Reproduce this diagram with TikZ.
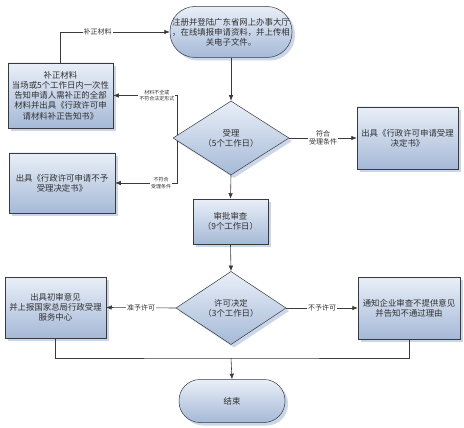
\documentclass[tikz,border=0pt]{standalone}
\usepackage{fontspec}
\setmainfont{Noto Sans CJK SC}
\usepackage{tikz}
\usetikzlibrary{arrows.meta,positioning,shapes.geometric,shadows,calc}
\definecolor{cfilltop}{HTML}{E9EFF8}
\definecolor{cfillbot}{HTML}{A5B9D7}
\definecolor{cshad}{HTML}{CAD7EB}
\definecolor{cline}{HTML}{3A3A3A}
\definecolor{ctext}{HTML}{303030}
\tikzset{
  base/.style={draw=cline, line width=0.5pt, align=center, font=\fontsize{8.4}{10.2}\selectfont, text=ctext, inner sep=1pt, top color=cfilltop, bottom color=cfillbot, drop shadow={fill=cshad, opacity=1, shadow xshift=3pt, shadow yshift=-3pt}},
  proc/.style={base, rectangle},
  term/.style={base, rectangle, rounded corners=22pt},
  dec/.style={base, diamond, inner sep=0pt},
  pre/.style={-{Latex[length=5.5pt,width=4.5pt]}, draw=cline, line width=0.6pt},
  link/.style={draw=cline, line width=0.6pt},
  lbl/.style={font=\fontsize{7}{8.5}\selectfont, text=ctext, fill=white, inner sep=1pt, align=center},
  slbl/.style={lbl, font=\fontsize{5}{6.5}\selectfont},
}

\begin{document}
\begin{tikzpicture}[x=1pt,y=-1pt]
\useasboundingbox (0,0) rectangle (464,428);
% start and end
\node[term, minimum width=122pt, minimum height=51pt, rounded corners=25pt] (start) at (231,32) {注册并登陆广东省网上办事大厅\\，在线填报申请资料，并上传相\\关电子文件。};
\node[term, minimum width=106pt, minimum height=43pt, rounded corners=21pt] (end) at (232,401) {结束};
% acceptance
\node[proc, minimum width=105pt, minimum height=65pt] (fix) at (60.5,95.5) {补正材料\\当场或5个工作日内一次性\\告知申请人需补正的全部\\材料并出具《行政许可申\\请材料补正告知书》};
\node[dec, minimum width=116pt, minimum height=74pt] (acc) at (231,138) {受理\\（5个工作日）};
\node[proc, minimum width=101pt, minimum height=62pt] (accok) at (407.5,138) {出具《行政许可申请受理\\决定书》};
\node[proc, minimum width=106pt, minimum height=60pt] (rej) at (62,183) {出具《行政许可申请不予\\受理决定书》};
% review and decision
\node[proc, minimum width=75pt, minimum height=45pt] (review) at (230.5,221.5) {审批审查\\（9个工作日）};
\node[dec, minimum width=110pt, minimum height=66pt] (decide) at (231,308) {许可决定\\（3个工作日）};
\node[proc, minimum width=101pt, minimum height=61pt] (grant) at (55.5,307.5) {出具初审意见\\并上报国家总局行政受理\\服务中心};
\node[proc, minimum width=102pt, minimum height=62pt] (deny) at (409,308) {通知企业审查不提供意见\\并告知不通过理由};

\coordinate (accU) at ($(acc.west)!0.08!(acc.north)$);
\coordinate (accD) at ($(acc.west)!0.08!(acc.south)$);
\coordinate (join) at (231,358);

\draw[pre] (start.south) -- (acc.north);
\draw[pre] (fix.north) |- node[lbl, pos=0.67] {补正材料} (start.west);
\draw[pre] (accU) |- node[slbl, pos=0.66] {材料不全或\\不符合法定形式} (fix.east);
\draw[pre] (accD) |- node[slbl, pos=0.63] {不符合\\受理条件} (rej.east);
\draw[pre] (acc.east) -- node[lbl] {符合\\受理条件} (accok.west);
\draw[pre] (acc.south) -- (review.north);
\draw[pre] (review.south) -- (decide.north);
\draw[pre] (decide.west) -- node[lbl] {准予许可} (grant.east);
\draw[pre] (decide.east) -- node[lbl] {不予许可} (deny.west);
\draw[link] (grant.south) |- (join) -| (deny.south);
\draw[pre] (join) -- (end.north);
\end{tikzpicture}
\end{document}
